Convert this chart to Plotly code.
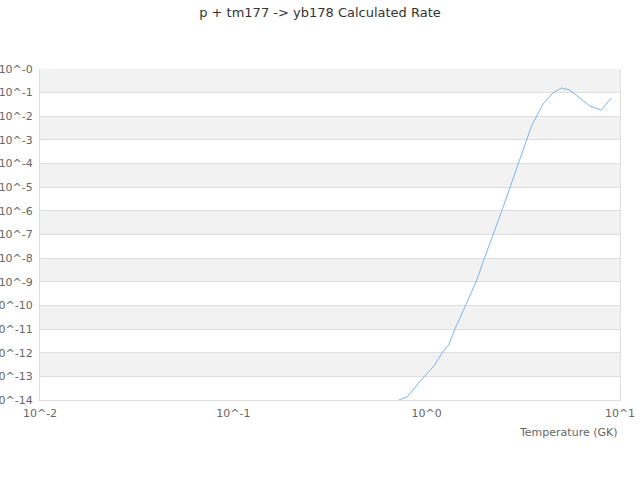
"""Tasa calculada p + tm177 -> yb178 (grafico log-log)."""
import plotly.graph_objects as go

# temperatura en GK y tasa
temperatura = [0.7, 0.8, 0.9, 1.0, 1.1, 1.2, 1.3, 1.4, 1.5, 1.6, 1.8,
               2.0, 2.5, 3.0, 3.5, 4.0, 4.5, 5.0, 5.5, 6.0, 7.0, 8.0, 9.0]
log_tasa = [-14.04, -13.84, -13.32, -12.90, -12.52, -12.01, -11.67, -11.0,
            -10.45, -9.94, -9.01, -7.95, -5.79, -3.93, -2.37, -1.48, -1.01,
            -0.80, -0.89, -1.14, -1.57, -1.74, -1.23]
tasa = [10 ** v for v in log_tasa]

exp_x = [-2, -1, 0, 1]
exp_y = list(range(0, -15, -1))
texto_x = [f"10^{e}" for e in exp_x]
texto_y = ["10^-0"] + [f"10^{e}" for e in exp_y[1:]]

GRIS = "#666666"
LINEA = "#dedede"


def bandas():
    """Franjas grises alternadas entre decadas (en fraccion del eje y)."""
    n = len(exp_y) - 1
    shapes = []
    for k in range(0, n, 2):
        shapes.append(dict(
            type="rect", xref="x domain", yref="y domain", layer="below",
            x0=0, x1=1, y0=(n - k - 1) / n, y1=(n - k) / n,
            fillcolor="#f2f2f2", line_width=0,
        ))
    return shapes


fig = go.Figure()
fig.add_trace(go.Scatter(
    x=temperatura, y=tasa, mode="lines",
    line=dict(color="#7cb5ec", width=1), showlegend=False,
))

fig.update_xaxes(
    type="log", range=[-2, 1],
    tickvals=[10 ** e for e in exp_x], ticktext=texto_x,
    showgrid=False, zeroline=False,
    showline=True, linecolor=LINEA, linewidth=1,
    ticks="outside", ticklen=3, tickcolor="rgba(0,0,0,0)",
    tickfont=dict(size=11, color=GRIS), automargin=False,
)
fig.update_yaxes(
    type="log", range=[-14, 0],
    tickvals=[10 ** e for e in exp_y], ticktext=texto_y,
    showgrid=True, gridcolor=LINEA, gridwidth=1, zeroline=False,
    showline=True, linecolor=LINEA, linewidth=1, mirror=True,
    ticks="outside", ticklen=4, tickcolor="rgba(0,0,0,0)",
    tickfont=dict(size=11, color=GRIS), automargin=False,
)
fig.add_annotation(
    text="Temperature (GK)", xref="paper", yref="paper",
    x=1, y=0, xanchor="right", yanchor="top", yshift=-24,
    showarrow=False, font=dict(size=11, color=GRIS),
)
fig.update_layout(
    template="none",
    width=640, height=480,
    margin=dict(l=40, r=20, t=69, b=80),
    paper_bgcolor="white", plot_bgcolor="white",
    font=dict(family="DejaVu Sans", color="#333333"),
    title=dict(
        text="p + tm177 -> yb178 Calculated Rate",
        x=0.5, xanchor="center", y=0.975, yanchor="middle",
        font=dict(size=13, color="#333333"),
    ),
    shapes=bandas(),
)

# sin margen del body para que el grafico empiece en (0, 0)
fig.write_html(
    "out.html",
    config={"displayModeBar": False},
    post_script="document.body.style.margin='0';",
)
